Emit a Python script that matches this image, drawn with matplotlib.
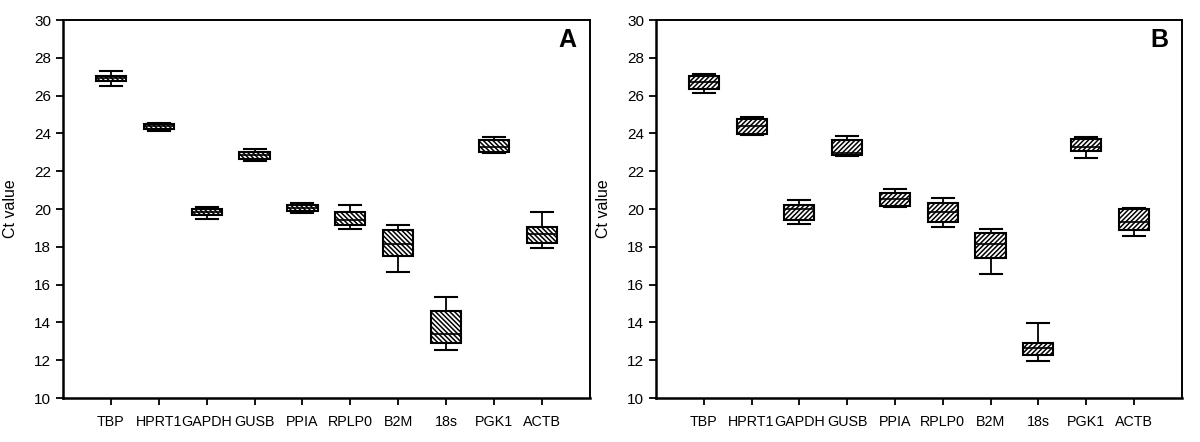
import matplotlib
matplotlib.use("Agg")
import matplotlib.pyplot as plt

plt.rcParams["font.family"] = ["Liberation Sans", "DejaVu Sans"]
plt.rcParams["hatch.linewidth"] = 1.1

genes = ["TBP", "HPRT1", "GAPDH", "GUSB", "PPIA", "RPLP0", "B2M", "18s", "PGK1", "ACTB"]

# panel A: whisker low, q1, median, q3, whisker high
a_lo  = [26.52, 24.13, 19.49, 22.54, 19.77, 18.94, 16.68, 12.56, 22.95, 17.95]
a_q1  = [26.79, 24.23, 19.68, 22.66, 19.91, 19.15, 17.53, 12.93, 23.03, 18.18]
a_med = [26.93, 24.37, 19.83, 22.85, 20.05, 19.40, 18.15, 13.37, 23.28, 18.66]
a_q3  = [27.05, 24.51, 19.98, 23.03, 20.21, 19.86, 18.89, 14.59, 23.65, 19.06]
a_hi  = [27.30, 24.57, 20.11, 23.19, 20.30, 20.23, 19.15, 15.34, 23.83, 19.84]

# panel B
b_lo  = [26.14, 23.93, 19.19, 22.83, 20.12, 19.06, 16.54, 11.98, 22.68, 18.57]
b_q1  = [26.37, 23.97, 19.42, 22.86, 20.17, 19.33, 17.39, 12.29, 23.07, 18.89]
b_med = [26.72, 24.39, 20.00, 22.95, 20.55, 19.85, 18.13, 12.63, 23.30, 19.33]
b_q3  = [27.04, 24.75, 20.23, 23.63, 20.86, 20.30, 18.75, 12.89, 23.69, 19.98]
b_hi  = [27.14, 24.87, 20.49, 23.86, 21.07, 20.58, 18.94, 13.98, 23.83, 20.05]


def panel(ax, lo, q1, med, q3, hi, hatch, letter):
    stats = []
    for i in range(len(genes)):
        stats.append({"whislo": lo[i], "q1": q1[i], "med": med[i],
                      "q3": q3[i], "whishi": hi[i], "fliers": []})
    pos = list(range(1, len(genes) + 1))
    bp = ax.bxp(stats, positions=pos, widths=0.63, capwidths=0.46,
                patch_artist=True, showfliers=False,
                boxprops=dict(facecolor="white", edgecolor="black", linewidth=1.5),
                medianprops=dict(color="black", linewidth=1.2),
                whiskerprops=dict(color="black", linewidth=1.3),
                capprops=dict(color="black", linewidth=1.5))
    for b in bp["boxes"]:
        b.set_hatch(hatch)
    ax.set_xlim(0, 11)
    ax.set_ylim(10, 30)
    ax.set_yticks(range(10, 31, 2))
    ax.set_xticks(pos)
    ax.set_xticklabels(genes, fontsize=10.3)
    ax.tick_params(axis="y", labelsize=11, length=5, width=1.3, direction="out")
    ax.tick_params(axis="x", length=5, width=1.3, direction="out", pad=7)
    for s in ["top", "right"]:
        ax.spines[s].set_linewidth(1.4)
    for s in ["left", "bottom"]:
        ax.spines[s].set_linewidth(1.8)
    ax.set_ylabel("Ct value", fontsize=11.5, labelpad=12)
    ax.text(0.975, 0.98, letter, transform=ax.transAxes, ha="right", va="top",
            fontsize=18, fontweight="bold")


fig = plt.figure(figsize=(12, 4.42), dpi=100)
ax1 = fig.add_axes([0.0525, 0.0995, 0.439, 0.855])
ax2 = fig.add_axes([0.5467, 0.0995, 0.438, 0.855])

panel(ax1, a_lo, a_q1, a_med, a_q3, a_hi, "\\" * 7, "A")
panel(ax2, b_lo, b_q1, b_med, b_q3, b_hi, "/" * 7, "B")

fig.savefig("out.png", dpi=100)
